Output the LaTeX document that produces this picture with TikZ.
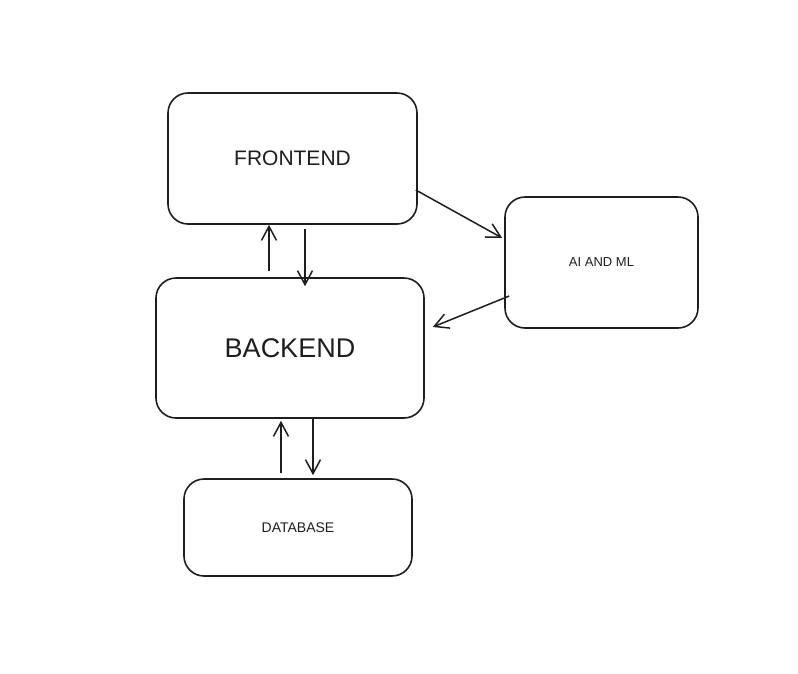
\documentclass[tikz,border=0pt]{standalone}
\usepackage{fontspec}
\setmainfont{Liberation Sans}
\usetikzlibrary{arrows.meta}
\definecolor{ink}{HTML}{1E1E1E}
\begin{document}
\begin{tikzpicture}[
        x                       = 1pt,
        y                       = -1pt,
        block/.style            = {draw=ink, line width=1.6pt, rounded corners=20pt, text=ink},
        link/.style             = {draw=ink, line width=1.5pt, -{Straight Barb[length=14pt 0 0, width=15pt 0 0]}},
      ]
        \useasboundingbox (0,0) rectangle (798,673);
        % boxes
        \node[block, minimum width=249pt, minimum height=131pt, font=\fontsize{21}{24}\selectfont] (front) at (292.5,158.5) {FRONTEND};
        \node[block, minimum width=193pt, minimum height=131pt, font=\fontsize{13}{15}\selectfont] (ai) at (601.5,262.5) {AI AND ML};
        \node[block, minimum width=268pt, minimum height=140pt, font=\fontsize{27}{30}\selectfont] (back) at (290,348) {BACKEND};
        \node[block, minimum width=228pt, minimum height=97pt, font=\fontsize{14}{16}\selectfont] (db) at (298,527.5) {DATABASE};
        % frontend <-> backend
        \draw[link] ([xshift=12.5pt, yshift=-4pt]front.south) -- ([xshift=15pt, yshift=-9pt]back.north);
        \draw[link] ([xshift=-21pt, yshift=6pt]back.north) -- ([xshift=-23.5pt]front.south);
        % frontend -> ai -> backend
        \draw[link] ([xshift=-2pt, yshift=-31.5pt]front.east) -- ([xshift=-2pt, yshift=24.5pt]ai.west);
        \draw[link] ([xshift=5pt, yshift=-33.5pt]ai.west) -- ([xshift=8pt, yshift=21pt]back.east);
        % backend <-> database
        \draw[link] ([xshift=23pt]back.south) -- ([xshift=15pt, yshift=3pt]db.north);
        \draw[link] ([xshift=-17pt, yshift=5pt]db.north) -- ([xshift=-9pt, yshift=-2pt]back.south);
    \end{tikzpicture}
\end{document}
